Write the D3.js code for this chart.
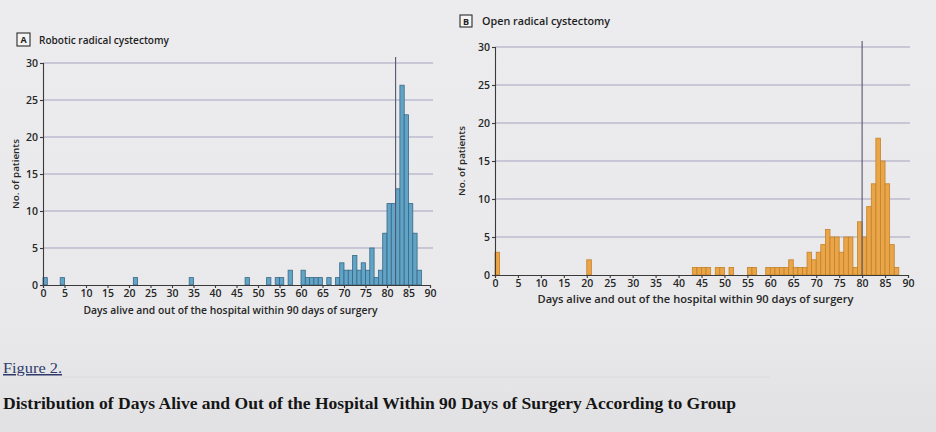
<!DOCTYPE html>
<html><head><meta charset="utf-8">
<script src="https://cdn.jsdelivr.net/npm/d3@7"></script>
<style>
html,body{margin:0;padding:0;background:#e6e6e8;}
svg{display:block;}
</style></head>
<body>
<svg id="chart" width="936" height="432"></svg>
<script>
// ---- data ----
const panelTitles = ["Robotic radical cystectomy", "Open radical cystectomy"];
const panelLetters = ["A", "B"];
const daysA   = [0,4,21,34,47,52,54,55,57,60,61,62,63,64,66,68,69,70,71,72,73,74,75,76,77,78,79,80,81,82,83,84,85,86,87];
const countsA = [1,1,1,1,1,1,1,1,2,2,1,1,1,1,1,1,3,2,2,4,2,3,2,5,1,2,7,11,11,13,27,23,11,7,2];
const daysB   = [0,20,43,44,45,46,48,49,51,55,56,59,60,61,62,63,64,65,66,67,68,69,70,71,72,73,74,75,76,77,78,79,80,81,82,83,84,85,86,87];
const countsB = [3,2,1,1,1,1,1,1,1,1,1,1,1,1,1,1,2,1,1,1,3,2,3,4,6,5,5,3,5,5,1,7,5,9,12,18,15,12,4,1];
const medians = [82, 80];
const xTicks = [0,5,10,15,20,25,30,35,40,45,50,55,60,65,70,75,80,85,90];
const yTicks = [0,5,10,15,20,25,30];
const xTitle = "Days alive and out of the hospital within 90 days of surgery";
const yTitle = "No. of patients";
const figLabel = "Figure 2.";
const caption = "Distribution of Days Alive and Out of the Hospital Within 90 Days of Surgery According to Group";

// ---- layout ----
const svg = d3.select("#chart");
const font = "'Open Sans', 'Noto Sans', sans-serif";

const bg = svg.append("defs").append("linearGradient").attr("id","bg").attr("x1",0).attr("y1",0).attr("x2",0).attr("y2",1);
bg.append("stop").attr("offset","0%").attr("stop-color","#ececee");
bg.append("stop").attr("offset","75%").attr("stop-color","#e9e9eb");
bg.append("stop").attr("offset","100%").attr("stop-color","#e1e1e3");
svg.append("rect").attr("width",936).attr("height",432).attr("fill","url(#bg)");

const panels = [
  {days: daysA, counts: countsA, x0: 43, x1: 430, y0: 285, y1: 63, fill: "#62a4c7", stroke: "#386882",
   box: {x:17, y:33, s:13}, titleX: 39, titleY: 44, titleLen: 130, titleSize: 10.5,
   yTitleX: 19, xTitleY: 314, xTitleLen: 294, median: medians[0], gridRight: 433},
  {days: daysB, counts: countsB, x0: 495, x1: 908, y0: 275, y1: 47, fill: "#eaa548", stroke: "#c2822a",
   box: {x:460, y:15, s:12}, titleX: 482, titleY: 25, titleLen: 128, titleSize: 10.5,
   yTitleX: 465, xTitleY: 303, xTitleLen: 316, median: medians[1], gridRight: 910}
];

panels.forEach((p, i) => {
  const x = d3.scaleLinear().domain([0, 90]).range([p.x0, p.x1]);
  const y = d3.scaleLinear().domain([0, 30]).range([p.y0, p.y1]);
  const g = svg.append("g");

  // gridlines
  g.selectAll("line.grid").data(yTicks.filter(t => t > 0)).join("line")
    .attr("x1", p.x0).attr("x2", p.gridRight)
    .attr("y1", d => y(d)).attr("y2", d => y(d))
    .attr("stroke", "#a3a3c0").attr("stroke-width", 1);

  // bars
  g.selectAll("rect.bar").data(p.days.map((d, k) => ({d, c: p.counts[k]}))).join("rect")
    .attr("x", d => x(d.d))
    .attr("width", d => x(d.d + 1) - x(d.d))
    .attr("y", d => y(d.c))
    .attr("height", d => y(0) - y(d.c))
    .attr("fill", p.fill).attr("stroke", p.stroke).attr("stroke-width", 0.8);

  // median line
  g.append("line")
    .attr("x1", x(p.median)).attr("x2", x(p.median))
    .attr("y1", y(30) - 6).attr("y2", y(0))
    .attr("stroke", "#56566e").attr("stroke-width", 1.1);

  // axes
  const xa = g.append("g").attr("transform", `translate(0,${p.y0})`)
    .call(d3.axisBottom(x).tickValues(xTicks).tickSize(3).tickPadding(2));
  const ya = g.append("g").attr("transform", `translate(${p.x0},0)`)
    .call(d3.axisLeft(y).tickValues(yTicks).tickSize(3).tickPadding(2));
  [xa, ya].forEach(a => {
    a.selectAll("path,line").attr("stroke", "#3a3a3a").attr("stroke-width", 1.1);
    a.selectAll("text").attr("fill", "#262626").style("font-family", font)
      .style("font-size", "10.5px").style("font-weight", "600");
  });

  // x title
  g.append("text").attr("x", (p.x0 + p.x1) / 2 - 6).attr("y", p.xTitleY)
    .attr("text-anchor", "middle").attr("textLength", p.xTitleLen).attr("lengthAdjust", "spacingAndGlyphs")
    .style("font-family", font).style("font-size", "10.5px").style("font-weight", "600")
    .attr("fill", "#262626").text(xTitle);

  // y title
  g.append("text").attr("transform", `translate(${p.yTitleX},${(p.y0 + p.y1) / 2}) rotate(-90)`)
    .attr("text-anchor", "middle").attr("textLength", 70).attr("lengthAdjust", "spacingAndGlyphs")
    .style("font-family", font).style("font-size", "9.5px").style("font-weight", "600")
    .attr("fill", "#262626").text(yTitle);

  // panel letter box + title
  g.append("rect").attr("x", p.box.x).attr("y", p.box.y).attr("width", p.box.s).attr("height", p.box.s)
    .attr("fill", "#f4f4f4").attr("stroke", "#2a2a2a").attr("stroke-width", 1.1);
  g.append("text").attr("x", p.box.x + p.box.s / 2).attr("y", p.box.y + p.box.s / 2 + 3.5)
    .attr("text-anchor", "middle").style("font-family", font).style("font-size", "9px").style("font-weight", "700")
    .attr("fill", "#1e1e1e").text(panelLetters[i]);
  g.append("text").attr("x", p.titleX).attr("y", p.titleY)
    .attr("textLength", p.titleLen).attr("lengthAdjust", "spacingAndGlyphs")
    .style("font-family", font).style("font-size", p.titleSize + "px").style("font-weight", "600")
    .attr("fill", "#1e1e1e").text(panelTitles[i]);
});

// caption
svg.append("line").attr("x1", 62).attr("x2", 770).attr("y1", 377).attr("y2", 377)
  .attr("stroke", "#dadadc").attr("stroke-width", 1);
svg.append("text").attr("x", 3).attr("y", 373)
  .attr("textLength", 59).attr("lengthAdjust", "spacingAndGlyphs")
  .style("font-family", "'Liberation Serif', serif").style("font-size", "15px")
  .style("text-decoration", "underline")
  .attr("fill", "#2f3a6a").text(figLabel);
svg.append("text").attr("x", 3).attr("y", 409)
  .attr("textLength", 733).attr("lengthAdjust", "spacingAndGlyphs")
  .style("font-family", "'Liberation Serif', serif").style("font-size", "17px").style("font-weight", "700")
  .attr("fill", "#151515").text(caption);
</script>
</body></html>
